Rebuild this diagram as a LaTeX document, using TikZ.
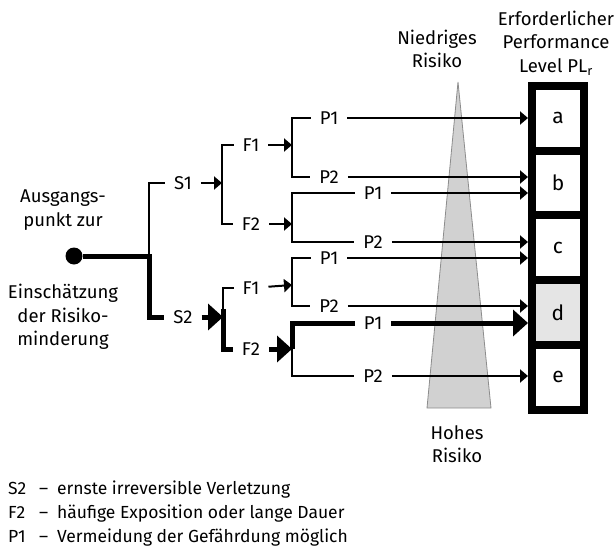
\documentclass[tikz,border=0pt]{standalone}
\usepackage{fontspec}
\setmainfont{Fira Sans}
\usetikzlibrary{arrows.meta,calc}

\begin{document}
\begin{tikzpicture}[x=1pt,y=-1pt,
  lbl/.style={inner xsep=9pt,inner ysep=1pt,font=\fontsize{18.5}{22}\selectfont},
  txt/.style={align=center,inner sep=0pt,font=\fontsize{18.5}{23.5}\selectfont},
  legend/.style={anchor=west,inner sep=0pt,font=\fontsize{17.5}{20}\selectfont},
  ln/.style={line width=2pt},
  thk/.style={line width=5pt},
  arr/.style={ln,-{Triangle[length=8pt,width=13pt]}},
  bigarr/.style={thk,-{Triangle[length=15pt,width=26pt]}},
  plbox/.style={draw,line width=8pt,minimum width=52pt,minimum height=64.7pt,
                inner sep=0pt,font=\fontsize{21}{22}\selectfont},
]
\useasboundingbox (0,0) rectangle (614,549);

% risk wedge
\filldraw[fill=black!18,draw=black!45,line width=.8pt]
  (458,82) -- (491,408) -- (427,408) -- cycle;

% PL_r column
\node[plbox] (a) at (558,118.4) {a};
\node[plbox] (b) at (558,183.1) {b};
\node[plbox] (c) at (558,247.8) {c};
\node[plbox,fill=black!10] (d) at (558,312.5) {d};
\node[plbox] (e) at (558,377.2) {e};

% headings
\node[txt] (low) at (437,49) {Niedriges\\Risiko};
\node[txt] (high) at (457,444) {Hohes\\Risiko};
\node[txt] (plr) at (556,43) {Erforderlicher\\Performance\\Level PL\textsubscript{r}};
\node[txt] (st1) at (63,210) {Ausgangs-\\punkt zur};
\node[txt] (st2) at (63,317) {Einschätzung\\der Risiko-\\minderung};

% tree labels
\node[circle,fill,inner sep=0pt,minimum size=17pt] (start) at (74,256) {};
\node[lbl] (s1) at (183,183) {S1};
\node[lbl] (s2) at (183,317) {S2};
\node[lbl] (s1f1) at (251,145) {F1};
\node[lbl] (s1f2) at (251,224) {F2};
\node[lbl] (s2f1) at (251,288) {F1};
\node[lbl] (s2f2) at (251,349) {F2};
\node[lbl] (s1f1p1) at (329,118) {P1};
\node[lbl] (s1f1p2) at (329,177) {P2};
\node[lbl] (s1f2p1) at (373,193) {P1};
\node[lbl] (s1f2p2) at (373,242) {P2};
\node[lbl] (s2f1p1) at (329,258) {P1};
\node[lbl] (s2f1p2) at (329,306) {P2};
\node[lbl] (s2f2p1) at (373,323) {P1};
\node[lbl] (s2f2p2) at (373,376) {P2};

% branch points
\coordinate (j0) at (149,256);
\coordinate (s1j) at (222,183);
\coordinate (s2j) at (223,317);
\coordinate (s1f1j) at (292,145);
\coordinate (s1f2j) at (292,224);
\coordinate (s2f1j) at (292,285);
\coordinate (s2f2j) at (292,349);

% S
\draw[thk] (start) -- (j0) |- (s2.west);
\draw[ln] (j0) |- (s1.west);
% F
\draw[arr] (s1) -- (s1j);
\draw[ln] (s1f1.west) -| (s1j) |- (s1f2.west);
\draw[bigarr] (s2) -- (s2j);
\draw[ln] (s2f1.west) -| (s2j);
\draw[thk] ($(s2j)+(0,-8)$) |- (s2f2.west);
% P
\draw[arr] (s1f1) -- (s1f1j);
\draw[ln] (s1f1p1.west) -| (s1f1j) |- (s1f1p2.west);
\draw[arr] (s1f2) -- (s1f2j);
\draw[ln] (s1f2p1.west) -| (s1f2j) |- (s1f2p2.west);
\draw[arr] (s2f1) -- (s2f1j);
\draw[ln] (s2f1p1.west) -| (s2f1j) |- (s2f1p2.west);
\draw[bigarr] (s2f2) -- (s2f2j);
\draw[thk] (s2f2j) |- (s2f2p1.west);
\draw[ln] (s2f2j) |- (s2f2p2.west);

% to PL_r
\draw[arr] (s1f1p1) -- (s1f1p1 -| a.west);
\draw[arr] (s1f1p2) -- (s1f1p2 -| b.west);
\draw[arr] (s1f2p1) -- (s1f2p1 -| b.west);
\draw[arr] (s1f2p2) -- (s1f2p2 -| c.west);
\draw[arr] (s2f1p1) -- (s2f1p1 -| c.west);
\draw[arr] (s2f1p2) -- (s2f1p2 -| d.west);
\draw[bigarr] (s2f2p1) -- (s2f2p1 -| d.west);
\draw[arr] (s2f2p2) -- (s2f2p2 -| e.west);

% legend
\node[legend] (lg1) at (8,490) {\makebox[31pt][l]{S2}--\enspace ernste irreversible Verletzung};
\node[legend] (lg2) at (8,514) {\makebox[31pt][l]{F2}--\enspace häufige Exposition oder lange Dauer};
\node[legend] (lg3) at (8,538) {\makebox[31pt][l]{P1}--\enspace Vermeidung der Gefährdung möglich};
\end{tikzpicture}
\end{document}
